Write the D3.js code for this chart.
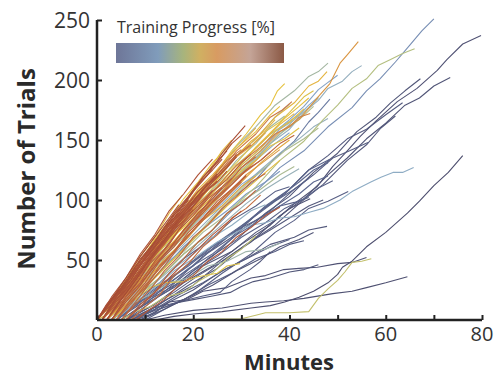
<!DOCTYPE html>
<html>
<head>
<meta charset="utf-8">
<script src="https://cdn.jsdelivr.net/npm/d3@7"></script>
<style>
  body { margin: 0; background: #fff; }
  svg { display: block; font-family: "Open Sans", Lato, sans-serif; }
</style>
</head>
<body>
<div id="chart"></div>
<script>
// each run: [training progress 0..1, [[minutes, trials], ...]]
const slateRuns = [
  [0.02, [[6,0],[12,13],[18,31],[24,45],[30,63],[36,79],[41,97],[45.7,111],[49,128],[52,141],[54.7,153],[58,166],[62.4,182],[66.5,193],[70.7,208],[72.7,217],[76,230],[79.8,237]]],
  [0.03, [[8,0],[14,16],[20,29],[26,49],[32,65],[38,87],[43,101],[48,121],[52,135],[56,151],[60,164],[64,179],[67,185],[70,195],[73.4,202]]],
  [0.04, [[5,0],[11,17],[17,31],[23,51],[29,67],[35,89],[40,103],[45,123],[50,139],[54,157],[58,169],[61,181],[64,191],[67.2,201]]],
  [0.05, [[7,0],[13,13],[19,29],[25,43],[31,63],[37,79],[42,97],[47,113],[52,133],[56,146],[59,160],[62,170]]],
  [0.06, [[4,0],[10,16],[16,31],[22,53],[28,69],[34,91],[39,105],[44,125],[48,137],[52,151],[56,159],[60,171],[63.5,181]]],
  [0.07, [[6,0],[12,17],[18,37],[24,53],[30,75],[36,91],[41,109],[45,121],[49,135],[52.5,141],[56.3,148]]],
  [0.08, [[10,0],[15,11],[20,21],[26,39],[32,55],[37,73],[41,83],[44,93],[48,99],[52.2,107]]],
  [0.03, [[5,0],[10,13],[16,27],[22,45],[28,57],[33,73],[37,83],[40,93],[44.3,101]]],
  [0.05, [[8,0],[14,13],[20,25],[26,41],[31,51],[36,63],[41,69],[44,75],[47.8,78]]],
  [0.02, [[8,0],[12,6],[15,15],[18.7,17],[22,24],[27,27],[32,35],[35,37],[38.8,42],[42,43],[45.8,44],[50,47],[53,48],[56,52]]],
  [0.01, [[10,0],[14,4],[20,8],[26,10],[32,14],[35,15],[38.8,16],[43,18],[49,22],[53,24],[56,27],[60,31],[64.5,36]]],
  [0.0, [[12,0],[16,3],[20,5],[26,7],[32,10],[36,12],[39,15],[42,19],[45,24],[48,31],[50,38],[51,44],[53,49],[56,61],[60,73],[64.5,89],[67,99],[70,112],[73,123],[76,137]]],
  [0.06, [[7,0],[12,8],[18,16],[22,20],[25.6,23],[28,32],[31.8,42],[34,49],[36,57]]],
  [0.04, [[6,0],[9,5],[11.6,10],[16,14],[20,17],[24,20],[27.7,23],[30,28],[32.5,32],[36,35],[40,40],[43,42],[46,46]]],
  [0.09, [[4,0],[9,16],[14,29],[19,47],[24,59],[29,75],[34,85],[38,95],[41,98],[44,102]]],
  [0.1, [[5,0],[10,13],[15,31],[20,45],[25,63],[30,77],[35,95],[40,109],[44,125],[48.4,134]]],
  [0.08, [[3,0],[8,17],[13,31],[18,51],[23,65],[28,83],[33,95],[37,107],[40,111]]],
  [0.07, [[9,0],[13,9],[18,17],[23,29],[28,39],[33,51],[37,57],[40,63],[43,66]]],
  [0.05, [[6,0],[11,11],[16,23],[21,37],[26,49],[31,63],[36,75],[40,85],[44,95],[47,100]]],
  [0.09, [[5,0],[10,13],[15,25],[20,41],[25,53],[30,69],[35,81],[39,93],[43,101],[46,110],[49,116]]],
  [0.03, [[9,0],[14,9],[19,19],[24,29],[29,41],[34,51],[38,61],[42,67],[45,73]]],
  [0.11, [[4,0],[9,15],[14,31],[19,45],[24,61],[29,75],[34,91],[38,103],[42,115],[45,125],[48,131]]],
  [0.07, [[7,0],[12,9],[17,21],[22,31],[27,43],[32,53],[36,61],[40,67]]],
  [0.1, [[3,0],[8,14],[13,29],[18,43],[23,59],[28,73],[33,87],[37,99],[41,109],[44,118]]]
];

const blueRuns = [
  [0.18, [[3,0],[8,19],[13,35],[18,55],[23,71],[28,91],[33,107],[38,127],[43,141],[48,161],[53,177],[56,191],[58.8,201],[62,215],[65,229],[67.5,241],[70,251]]],
  [0.15, [[3,0],[8,21],[13,39],[18,61],[23,79],[28,101],[33,117],[37,135],[41,149],[44,165],[46,173],[48.4,184]]],
  [0.25, [[4,0],[8,15],[12,27],[16,41],[20,51],[25,65],[28,71],[31.8,79],[35,81],[38,85],[41,86],[44.3,90],[47,93],[50.5,100],[53,107],[56.9,115],[59,119],[61.5,123],[63.5,123],[65.8,127]]],
  [0.27, [[2,0],[7,23],[12,43],[17,67],[22,87],[27,111],[32,129],[36,147],[40,159],[43,173],[46,183],[48,193],[51,199],[53,207],[55,212]]],
  [0.22, [[2,0],[6,19],[10,35],[14,55],[18,71],[22,91],[26,107],[30,127],[34,141],[38,159],[41,167],[44,179],[46,186]]],
  [0.3, [[1,0],[5,21],[9,39],[13,61],[17,79],[21,101],[25,117],[29,137],[33,151],[37,169],[40,180]]],
  [0.2, [[3,0],[7,17],[11,31],[15,49],[19,63],[23,79],[27,91],[31,105],[35,115],[38,124]]],
  [0.24, [[2,0],[6,17],[10,31],[14,51],[18,65],[22,83],[26,97],[30,113],[33,121],[36,130]]],
  [0.26, [[4,0],[8,15],[12,27],[16,43],[20,55],[24,69],[28,79],[32,91],[35,96]]],
  [0.12, [[4,0],[9,15],[14,27],[19,43],[24,55],[29,71],[34,83],[38,95],[42,105],[45,115],[48,120]]],
  [0.28, [[2,0],[6,15],[10,31],[14,47],[18,63],[22,79],[26,95],[30,111],[34,125],[38,139],[42,151],[45,161],[48,168]]],
  [0.23, [[1,0],[5,17],[9,35],[13,53],[17,69],[21,87],[25,103],[29,119],[33,133],[37,147],[40,156]]],
  [0.29, [[3,0],[7,13],[11,27],[15,41],[19,55],[23,69],[27,83],[31,97],[35,109],[39,119],[42,126]]],
  [0.21, [[2,0],[6,19],[10,37],[14,57],[18,73],[22,93],[26,109],[30,129],[34,143],[37,157],[40,167],[43,178],[46,192],[48,198],[50,204]]]
];

const greenRuns = [
  [0.42, [[3,0],[8,19],[13,35],[18,55],[23,71],[28,93],[33,111],[38,133],[43,149],[47,167],[50,179],[53,193],[56,201],[58.4,212],[61,217],[63.5,222],[66,226]]],
  [0.35, [[1,0],[5,21],[9,41],[13,63],[17,83],[21,105],[25,123],[29,145],[33,161],[37,179],[41,191],[44,203],[46,207],[48,214]]],
  [0.45, [[10,0],[20,0.5],[30,1],[33,4],[35,6],[40,6],[44,7],[46,18],[48,26],[50,33],[51.5,40],[53,48],[55,49],[57,51]]],
  [0.38, [[2,0],[6,15],[10,27],[14,45],[18,57],[22,73],[26,85],[30,99],[34,109],[38,121],[41,128]]],
  [0.33, [[3,0],[7,13],[11,21],[15,31],[19,35],[23,45],[27,49],[31,57],[35,59],[38,64]]],
  [0.36, [[1,0],[5,19],[9,35],[13,57],[17,75],[21,97],[25,113],[29,133],[33,147],[36,161],[39,170]]],
  [0.4, [[2,0],[6,17],[10,33],[14,53],[18,69],[22,89],[26,105],[30,125],[34,139],[38,155],[42,167],[45,178]]],
  [0.44, [[5,0],[8,7],[11,11],[14,19],[18,23],[21,32],[24,39],[27,51],[30,59],[33,70]]],
  [0.34, [[2,0],[6,17],[10,35],[14,53],[18,71],[22,89],[26,107],[30,123],[34,139],[38,155],[41,167],[44,177],[46,185]]],
  [0.37, [[1,0],[5,19],[9,37],[13,57],[17,75],[21,95],[25,111],[29,129],[33,143],[36,155],[39,163],[42,171]]],
  [0.39, [[3,0],[7,15],[11,31],[15,47],[19,63],[23,81],[27,97],[31,113],[35,127],[39,141],[43,151],[46,160]]]
];

const yellowRuns = [
  [0.52, [[0,0],[4,19],[8,37],[12,59],[16,79],[20,101],[24,119],[28,141],[31,155],[34,171],[36,179],[37.5,191],[39,197]]],
  [0.55, [[0,0],[3,17],[6,33],[9,53],[12,69],[15,89],[17.7,104]]],
  [0.5, [[0,0],[4,9],[8,17],[11,27],[14,31],[18,32],[21,36],[25,39],[27,45],[29.7,47]]],
  [0.56, [[1,0],[5,19],[9,37],[13,59],[17,77],[21,99],[25,117],[29,137],[33,151],[37,169],[41,181],[44,195],[46,199],[47.8,207]]],
  [0.53, [[1,0],[5,21],[9,41],[13,65],[17,83],[21,105],[25,123],[29,143],[33,157],[36,171],[38,178]]],
  [0.58, [[0,0],[4,21],[8,39],[12,63],[16,81],[20,103],[24,119],[27,135],[30,147],[33,160]]],
  [0.54, [[2,0],[6,19],[10,37],[14,57],[18,75],[22,95],[26,111],[30,129],[34,143],[37,157],[40,165],[43,176]]],
  [0.57, [[0,0],[3,15],[6,29],[9,47],[12,61],[15,79],[18,93],[21,109],[24,121],[26,130]]],
  [0.51, [[1,0],[5,17],[9,33],[13,53],[17,69],[21,89],[25,103],[29,121],[33,133],[36,145],[39,151],[42,160]]],
  [0.55, [[0,0],[4,23],[8,43],[12,67],[16,85],[20,109],[23,123],[26,141],[28,150]]],
  [0.59, [[2,0],[6,17],[10,31],[14,51],[18,65],[22,83],[26,95],[30,111],[33,120]]],
  [0.52, [[0,0],[3,13],[6,25],[9,41],[12,53],[15,67],[18,77],[21,89],[23,94]]],
  [0.53, [[1,0],[5,18],[9,36],[13,54],[17,74],[21,92],[25,110],[29,126],[33,144],[36,156],[39,168],[42,178],[44,185]]],
  [0.56, [[0,0],[4,17],[8,35],[12,53],[16,71],[20,91],[24,107],[28,125],[32,139],[35,151],[38,163],[41,172]]],
  [0.6, [[2,0],[6,15],[10,33],[14,49],[18,67],[22,83],[26,101],[30,115],[34,131],[37,141],[40,150]]],
  [0.5, [[1,0],[5,19],[9,39],[13,57],[17,77],[21,95],[25,115],[29,131],[33,149],[35,157],[38,165],[40,173],[43,186],[45,191]]],
  [0.57, [[0,0],[4,17],[8,37],[12,55],[16,75],[20,93],[24,113],[27,127],[30,141],[32,149],[35,158],[37,167]]],
  [0.54, [[3,0],[7,15],[11,31],[15,47],[19,63],[23,79],[27,95],[31,109],[35,123],[38,133]]],
  [0.52, [[0,0],[3,15],[6,33],[9,49],[12,67],[15,83],[18,101],[21,115],[24,131],[26,139],[28,147]]],
  [0.58, [[1,0],[4,13],[8,29],[12,47],[16,63],[20,81],[24,97],[28,113],[31,125],[34,137]]]
];

const orangeRuns = [
  [0.65, [[2,0],[6,19],[10,35],[14,55],[18,71],[22,91],[26,107],[30,127],[34,141],[38,157],[42,167],[44.5,179],[46.4,188],[48.4,197],[50.5,214],[52,221],[54.3,232]]],
  [0.7, [[1,0],[5,21],[9,39],[13,61],[17,77],[21,97],[25,111],[29,129],[33,141],[37,155],[40,161],[42,169],[44.3,172]]],
  [0.72, [[1,0],[5,21],[9,41],[13,63],[17,81],[21,103],[25,121],[29,141],[33,155],[36,169],[38.5,175],[40.5,182]]],
  [0.62, [[0,0],[4,19],[8,37],[12,59],[16,77],[20,99],[24,115],[28,133],[32,145],[35,156]]],
  [0.68, [[1,0],[5,17],[9,33],[13,53],[17,69],[21,89],[25,103],[29,119],[32,128]]],
  [0.64, [[3,0],[7,17],[11,33],[15,53],[19,69],[23,89],[27,103],[31,121],[35,133],[38,142]]],
  [0.74, [[0,0],[4,21],[8,41],[12,63],[16,81],[20,103],[24,119],[27,133],[30,142]]]
];

const brownRuns = [
  [0.95, [[0,0],[4,21],[8,41],[12,65],[16,85],[20,107],[23,121],[26,139],[28,149],[30.8,162]]],
  [0.9, [[1,0],[4,17],[7,33],[10,53],[13,69],[16,87],[19,101],[22,119],[25,131],[28,147],[30,154]]],
  [0.97, [[0,0],[3,17],[6,31],[9,51],[12,65],[15,83],[18,97],[21,113],[24,125],[26,134]]],
  [0.8, [[2,0],[5,17],[8,31],[11,49],[14,63],[17,81],[20,95],[23,111],[26,123],[29,137],[32,146]]],
  [0.88, [[0,0],[3,15],[6,29],[9,47],[12,61],[15,79],[18,91],[21,107],[23,114]]],
  [0.93, [[1,0],[4,15],[7,29],[10,47],[13,61],[16,77],[19,89],[22,105],[25,115],[27,124]]],
  [0.78, [[3,0],[6,15],[9,29],[12,47],[15,59],[18,75],[21,87],[24,103],[27,113],[30,127],[33,136]]],
  [0.99, [[0,0],[2,13],[5,27],[8,45],[11,59],[14,77],[17,89],[19,100]]],
  [0.84, [[2,0],[5,15],[8,29],[11,47],[14,59],[17,75],[20,87],[23,101],[26,111],[28,118]]],
  [0.91, [[0,0],[3,19],[6,35],[9,55],[12,71],[15,91],[18,105],[21,121],[24,134]]],
  [0.82, [[4,0],[7,15],[10,27],[13,45],[16,57],[19,73],[22,85],[25,99],[28,109],[31,120]]],
  [0.96, [[1,0],[4,19],[7,33],[10,51],[13,65],[16,83],[19,95],[21,104]]],
  [0.87, [[2,0],[5,19],[8,35],[11,53],[14,67],[17,85],[20,97],[23,113],[26,125],[29,138]]],
  [0.79, [[5,0],[8,13],[11,25],[14,41],[17,53],[20,69],[23,79],[26,93],[29,103],[32,115],[35,122]]],
  [0.94, [[0,0],[3,13],[6,25],[9,41],[12,55],[15,71],[18,83],[20,92]]],
  [0.86, [[3,0],[6,17],[9,31],[12,49],[15,63],[18,81],[21,93],[24,107],[27,117],[30,131],[32,138]]],
  [0.92, [[1,0],[4,17],[7,31],[10,49],[13,63],[16,81],[19,93],[22,109],[25,120]]],
  [0.81, [[6,0],[9,13],[12,23],[15,39],[18,51],[21,65],[24,75],[27,89],[30,97],[33,108]]],
  [0.98, [[0,0],[2,11],[4,21],[7,37],[10,51],[13,67],[16,79],[18,88]]],
  [0.83, [[4,0],[7,17],[10,31],[13,49],[16,61],[19,77],[22,89],[25,103],[28,113],[31,125],[34,133],[36,140]]],
  [0.89, [[2,0],[5,17],[8,33],[11,51],[14,65],[17,83],[20,95],[23,109],[25,116]]],
  [0.77, [[7,0],[10,11],[13,21],[16,37],[19,47],[22,61],[25,71],[28,85],[31,93],[34,104]]],
  [0.85, [[8,0],[11,9],[14,17],[17,29],[20,37],[23,49],[26,57],[29,69],[32,77],[35,87],[38,94]]],
  [0.93, [[3,0],[6,19],[9,35],[12,55],[15,69],[18,87],[21,99],[24,115],[27,127],[29,136]]],
  [0.8, [[2,0],[6,19],[10,35],[14,55],[18,71],[22,91],[26,105],[30,121],[34,133],[38,147],[41,154]]],
  [0.9, [[0,0],[3,15],[6,31],[9,47],[12,63],[15,79],[18,93],[20,102]]],
  [0.84, [[1,0],[4,13],[7,29],[10,43],[13,59],[16,73],[19,87],[22,99],[24,108]]],
  [0.97, [[2,0],[5,17],[8,33],[11,51],[14,67],[17,83],[20,99],[23,113],[25,122]]],
  [0.79, [[4,0],[7,13],[10,29],[13,43],[16,57],[19,71],[22,83],[25,95],[28,107],[30,115]]],
  [0.92, [[0,0],[2,11],[5,25],[8,41],[11,55],[14,71],[17,85],[20,97],[22,106]]],
  [0.86, [[3,0],[6,15],[9,29],[12,45],[15,59],[18,75],[21,89],[24,101],[26,110]]],
  [0.95, [[1,0],[4,19],[7,37],[10,55],[13,71],[16,89],[19,103],[22,119],[24,128],[27,141]]],
  [0.81, [[5,0],[8,15],[11,31],[14,45],[17,61],[20,75],[23,89],[26,101],[29,113],[31,121]]],
  [0.88, [[6,0],[9,11],[12,23],[15,35],[18,47],[21,59],[24,71],[27,81],[30,91]]],
  [0.99, [[0,0],[3,17],[6,35],[9,53],[12,69],[15,85],[17,96]]]
];

const xTicks = [0, 10, 20, 30, 40, 50, 60, 70, 80];
const xLabels = [0, 20, 40, 60, 80];
const yTicks = [50, 100, 150, 200, 250];

const lineColor = d3.scaleLinear()
  .domain([0, 0.12, 0.22, 0.32, 0.42, 0.52, 0.62, 0.72, 0.85, 1])
  .range(["#4d4e6e","#5d6890","#88a8cc","#9db4b0","#b4bf80","#e6c23e","#e0a040","#cc7a44","#b4583a","#a44a34"]);

const barStops = [[0,"#6e7698"],[0.25,"#809cbb"],[0.4,"#a7b47d"],[0.5,"#d0b062"],[0.6,"#d89b62"],[0.8,"#c4a497"],[1,"#8b5945"]];

const width = 501, height = 378;
const svg = d3.select("#chart").append("svg")
  .attr("width", width).attr("height", height);

const x = d3.scaleLinear().domain([0, 80]).range([97, 482]);
const y = d3.scaleLinear().domain([0, 250]).range([320, 20]);

const runs = [].concat(slateRuns, blueRuns, greenRuns, yellowRuns, orangeRuns, brownRuns);

const line = d3.line().x(d => x(d[0])).y(d => y(d[1]));

svg.append("g")
  .selectAll("path")
  .data(runs)
  .join("path")
  .attr("d", d => line(d[1]))
  .attr("fill", "none")
  .attr("stroke", d => lineColor(d[0]))
  .attr("stroke-width", 1.1)
  .attr("stroke-linejoin", "round");

// axes
const ink = "#222";
const xAxis = svg.append("g").attr("transform", "translate(0,320)")
  .call(d3.axisBottom(x).tickValues(xTicks).tickSize(-5).tickFormat(""));
xAxis.select(".domain").attr("stroke", ink).attr("stroke-width", 2.5).attr("d", "M97,0H482");
xAxis.selectAll(".tick line").attr("stroke", ink).attr("stroke-width", 2);

const yAxis = svg.append("g").attr("transform", "translate(97,0)")
  .call(d3.axisLeft(y).tickValues(yTicks).tickSize(-5).tickFormat(""));
yAxis.select(".domain").attr("stroke", ink).attr("stroke-width", 2.5).attr("d", "M0,320V20");
yAxis.selectAll(".tick line").attr("stroke", ink).attr("stroke-width", 2);

svg.append("g").selectAll("text")
  .data(xLabels).join("text")
  .attr("x", d => x(d)).attr("y", 341)
  .attr("text-anchor", "middle")
  .attr("font-size", 20).attr("fill", "#333")
  .text(d => d);

svg.append("g").selectAll("text")
  .data(yTicks).join("text")
  .attr("x", 90).attr("y", d => y(d) + 7.5)
  .attr("text-anchor", "end")
  .attr("font-size", 21).attr("fill", "#333")
  .text(d => d);

svg.append("text")
  .attr("x", 289).attr("y", 370)
  .attr("text-anchor", "middle")
  .attr("font-size", 22).attr("font-weight", "bold").attr("fill", "#2a2a2a")
  .text("Minutes");

svg.append("text")
  .attr("transform", "translate(35,169) rotate(-90)")
  .attr("text-anchor", "middle")
  .attr("font-size", 24).attr("font-weight", "bold").attr("fill", "#2a2a2a")
  .text("Number of Trials");

// colour bar legend
const grad = svg.append("defs").append("linearGradient").attr("id", "progress");
grad.selectAll("stop").data(barStops).join("stop")
  .attr("offset", d => d[0]).attr("stop-color", d => d[1]);

svg.append("text")
  .attr("x", 117).attr("y", 33)
  .attr("font-size", 16).attr("fill", "#333")
  .text("Training Progress [%]");

svg.append("rect")
  .attr("x", 116).attr("y", 43).attr("width", 168).attr("height", 20)
  .attr("fill", "url(#progress)");
</script>
</body>
</html>
